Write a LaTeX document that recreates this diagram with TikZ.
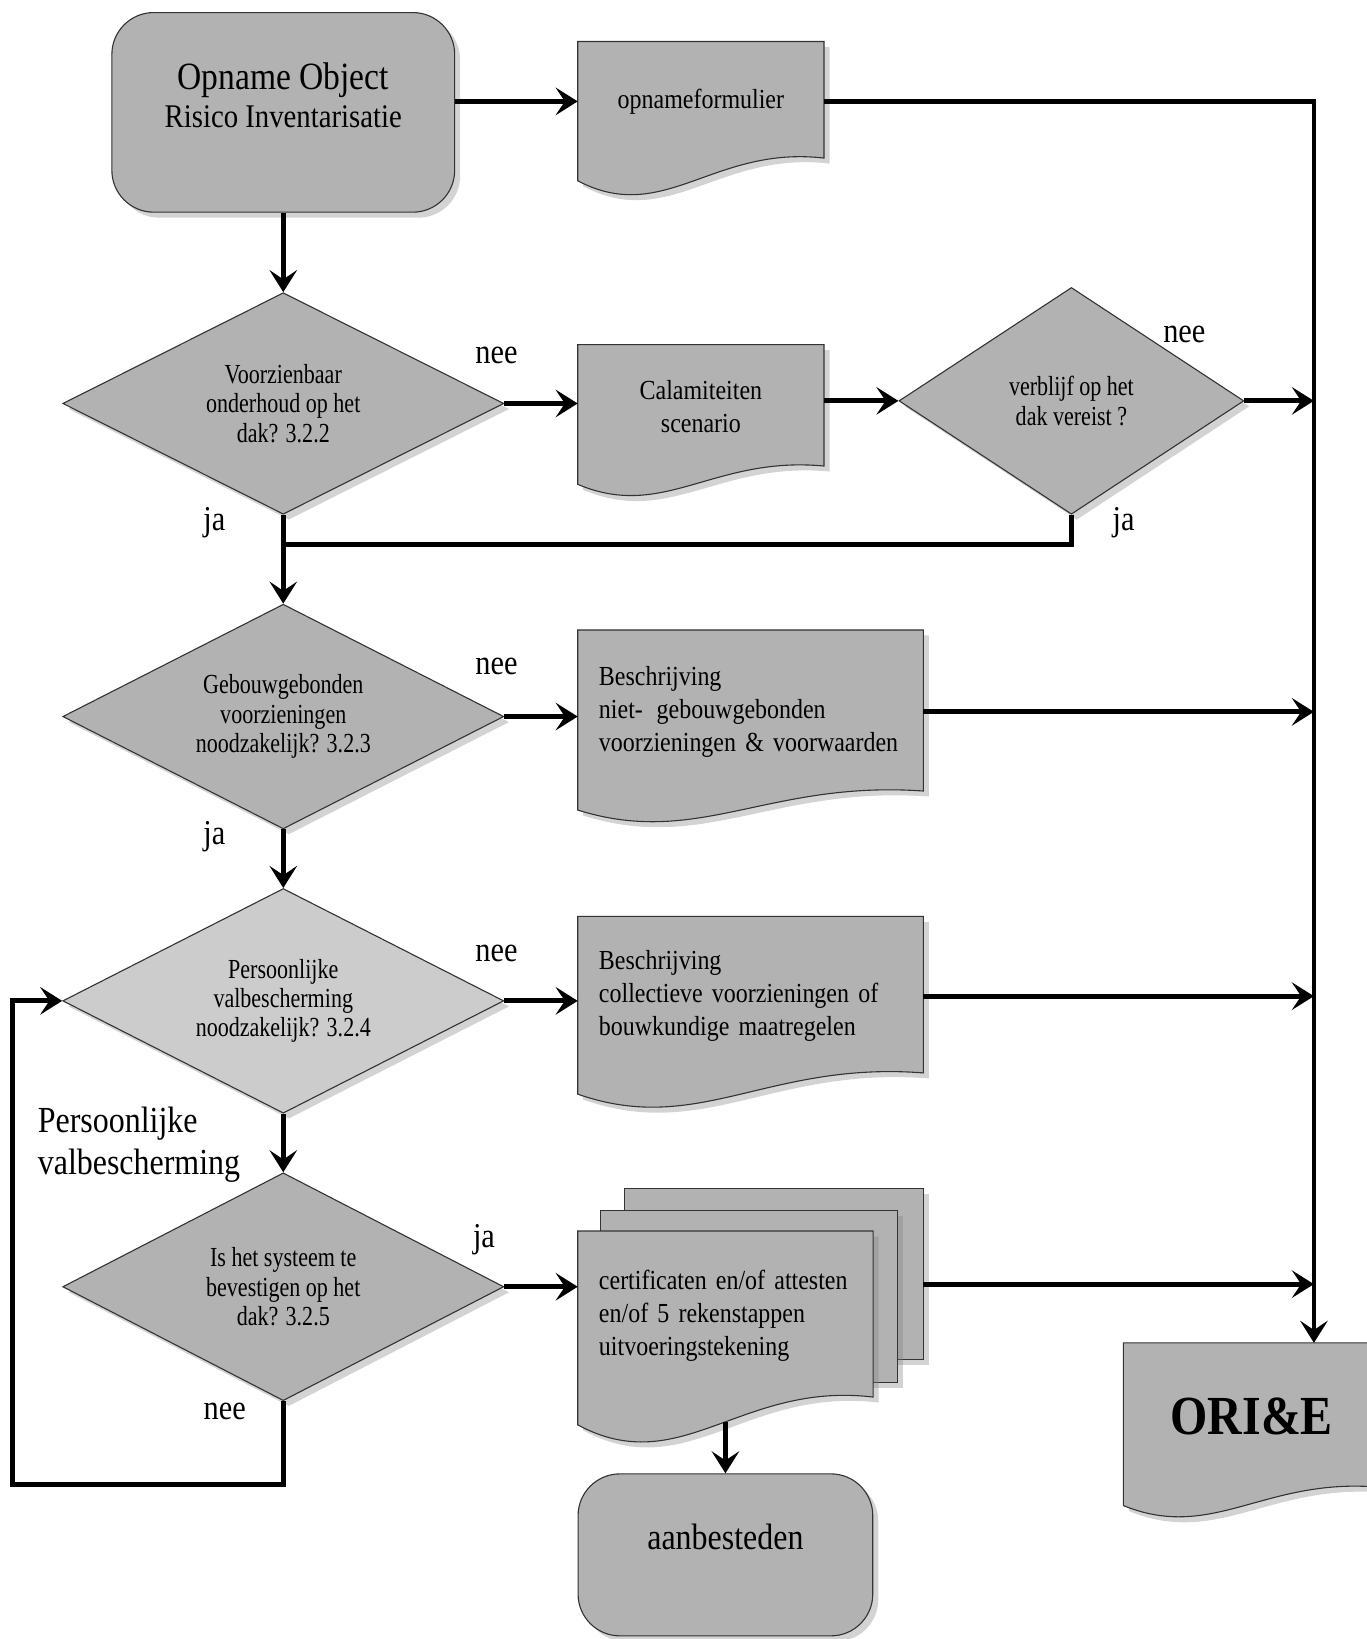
\documentclass[tikz,border=0pt]{standalone}
\usepackage{fontspec}
\setmainfont{Liberation Serif}[FakeStretch=0.87]
\newfontfamily\narrowserif{Liberation Serif}[FakeStretch=0.8]
\usetikzlibrary{shapes.geometric, arrows.meta, calc, shadows, backgrounds}

\tikzset{
    flow/.style={line width=2.6pt, -{Stealth[length=12pt, width=15pt, inset=5pt]}},
    link/.style={line width=2.6pt},
    paper/.style={fill=gray!60, draw=black!80, line width=0.6pt,
        drop shadow={opacity=0.35, shadow xshift=3pt, shadow yshift=-3pt}},
    decision/.style={paper, diamond, aspect=2, inner sep=0pt, align=center,
        font=\narrowserif\fontsize{15}{16}\selectfont},
    terminal/.style={paper, rectangle, rounded corners=0.8cm, inner sep=0pt},
    docnode/.style={rectangle, inner xsep=0.4cm, inner ysep=0pt,
        font=\fontsize{15}{18}\selectfont},
    answer/.style={font=\fontsize{19}{22}\selectfont},
}

% document shape: straight top, wavy bottom below the node
\newcommand{\docshape}[2]{%
    \path[paper] let \p1=(#1.south west), \p2=(#1.north east), \n1={\x2-\x1}, \n2={#2} in
        (\x1,\y2) -- (\x2,\y2) -- (\x2,\y1+0.1*\n2)
        .. controls (\x1+0.55*\n1,\y1+0.5*\n2) and (\x1+0.35*\n1,\y1-2.0*\n2) .. (\x1,\y1-0.6*\n2) -- cycle;}

\begin{document}
\begin{tikzpicture}[x=0.02cm, y=-0.02cm]
    \useasboundingbox (0,0) rectangle (1307,1568);

    % column of decisions
    \node[terminal, minimum width=6.56cm, minimum height=3.82cm,
        label={[align=center, yshift=0.33cm]center:{\fontsize{21}{24}\selectfont Opname Object\\[3pt]\fontsize{18}{22}\selectfont Risico Inventarisatie}}] (opname) at (271,107.5) {};
    \node[decision, minimum width=8.44cm, minimum height=4.24cm] (voorzien) at (271,386) {Voorzienbaar\\onderhoud op het\\dak? 3.2.2};
    \node[decision, minimum width=6.6cm, minimum height=4.34cm] (verblijf) at (1025,383.5) {verblijf op het\\dak vereist ?};
    \node[decision, minimum width=8.44cm, minimum height=4.3cm] (gebouw) at (271,685.5) {Gebouwgebonden\\voorzieningen\\noodzakelijk? 3.2.3};
    \node[decision, fill=gray!40, minimum width=8.44cm, minimum height=4.3cm] (valbesch) at (271,957.5) {Persoonlijke\\valbescherming\\noodzakelijk? 3.2.4};
    \node[decision, minimum width=8.44cm, minimum height=4.36cm] (systeem) at (271,1231) {Is het systeem te\\bevestigen op het\\dak? 3.2.5};

    % documents
    \node[docnode, minimum width=4.7cm, minimum height=2.28cm] (formulier) at (670.5,97) {opnameformulier};
    \node[docnode, align=center, minimum width=4.7cm, minimum height=2.36cm] (calamiteit) at (670.5,389) {Calamiteiten\\scenario};
    \node[docnode, align=left, text width=5.8cm, minimum height=3.12cm] (nietgeb) at (718,681) {Beschrijving\\niet-\enspace gebouwgebonden\\voorzieningen \& voorwaarden};
    \node[docnode, align=left, text width=5.8cm, minimum height=3.04cm] (collectief) at (718,953) {Beschrijving\\collectieve voorzieningen of\\bouwkundige maatregelen};
    \node[inner sep=0pt, minimum width=5.7cm, minimum height=3.26cm] (certback) at (740.5,1218.5) {};
    \node[inner sep=0pt, minimum width=5.66cm, minimum height=3.28cm] (certmid) at (716.5,1240) {};
    \node[docnode, align=left, text width=4.84cm, minimum height=3.24cm] (cert) at (694,1259) {certificaten en/of attesten\\en/of 5 rekenstappen\\uitvoeringstekening};
    \node[docnode, minimum width=4.9cm, minimum height=2.8cm, font=\bfseries\fontsize{30}{34}\selectfont] (orie) at (1197.5,1355) {ORI\&E};
    \node[terminal, minimum width=5.64cm, minimum height=3.1cm,
        label={[yshift=0.35cm, font=\fontsize{20}{24}\selectfont]center:aanbesteden}] (aanbest) at (694,1487.5) {};

    \begin{scope}[on background layer]
        \docshape{formulier}{0.62cm}
        \docshape{calamiteit}{0.5cm}
        \docshape{nietgeb}{0.52cm}
        \docshape{collectief}{0.58cm}
        \path[paper] (certback.north west) rectangle (certback.south east);
        \path[paper] (certmid.north west) rectangle (certmid.south east);
        \docshape{cert}{0.76cm}
        \docshape{orie}{0.5cm}
    \end{scope}

    % answers
    \node[answer] (nee1) at (475,340) {nee};
    \node[answer] (nee2) at (1133,320) {nee};
    \node[answer] (ja1) at (205,500) {ja};
    \node[answer] (ja2) at (1075,500) {ja};
    \node[answer] (nee3) at (475,638) {nee};
    \node[answer] (ja3) at (205,800) {ja};
    \node[answer] (nee4) at (475,912) {nee};
    \node[answer] (ja5) at (463,1186) {ja};
    \node[answer] (nee5) at (215,1350) {nee};
    \node[font=\fontsize{20}{23}\selectfont, align=left, anchor=west] (pvlabel) at (30,1095) {Persoonlijke\\valbescherming};

    % connectors
    \coordinate (bus) at (1257,97);
    \coordinate (samen) at ($(voorzien.south)!0.33!(gebouw.north)$);
    \coordinate (terug) at (12,1420);

    \draw[flow] (opname.east |- formulier.west) -- (formulier.west);
    \draw[flow] (formulier.east) -- (bus) -- (bus |- orie.north);
    \draw[flow] (opname.south) -- (voorzien.north);
    \draw[flow] (voorzien.east) -- (voorzien.east -| calamiteit.west);
    \draw[flow] (calamiteit.east |- verblijf.west) -- (verblijf.west);
    \draw[flow] (verblijf.east) -- (verblijf.east -| bus);
    \draw[link] (verblijf.south) |- (samen);
    \draw[flow] (voorzien.south) -- (gebouw.north);
    \draw[flow] (gebouw.east) -- (gebouw.east -| nietgeb.west);
    \draw[flow] (nietgeb.east) -- (nietgeb.east -| bus);
    \draw[flow] (gebouw.south) -- (valbesch.north);
    \draw[flow] (valbesch.east) -- (valbesch.east -| collectief.west);
    \draw[flow] (collectief.east) -- (collectief.east -| bus);
    \draw[flow] (valbesch.south) -- (systeem.north);
    \draw[flow] (systeem.east) -- (systeem.east -| cert.west);
    \draw[flow] ([yshift=-0.2cm]certback.east) -- ([yshift=-0.2cm]certback.east -| bus);
    \draw[flow] ([yshift=-0.4cm]cert.south) -- (aanbest.north);
    \draw[flow] (systeem.south) |- (terug) |- (valbesch.west);

\end{tikzpicture}
\end{document}
